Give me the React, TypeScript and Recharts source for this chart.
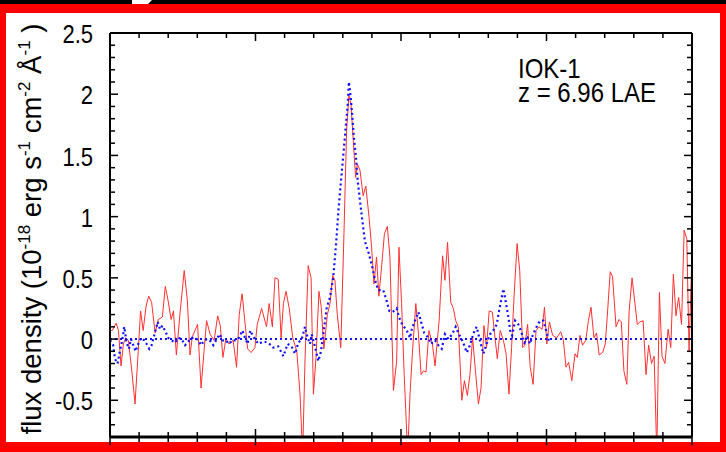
import React from 'react';
import { LineChart, Line, XAxis, YAxis, Customized } from 'recharts';

// Observed spectrum (red, solid)
const redWave = [
  9600.0, 9600.8, 9602.1, 9602.9, 9603.8, 9604.6, 9605.4, 9606.3, 9607.5, 9608.6,
  9609.7, 9610.5, 9611.4, 9612.4, 9613.3, 9614.3, 9615.5, 9616.6, 9618.0, 9619.0,
  9620.0, 9621.0, 9621.8, 9622.8, 9624.1, 9625.5, 9626.6, 9627.5, 9628.3, 9630.1,
  9631.3, 9632.3, 9633.2, 9634.4, 9635.8, 9637.0, 9637.9, 9638.8, 9639.8, 9640.9,
  9642.3, 9643.5, 9644.4, 9645.4, 9646.2, 9647.3, 9648.5, 9649.8, 9650.6, 9652.1,
  9653.8, 9654.7, 9655.8, 9656.7, 9657.8, 9658.8, 9659.6, 9660.5, 9661.6, 9662.8,
  9664.2, 9665.3, 9666.2, 9667.0, 9668.1, 9669.1, 9669.9, 9670.8, 9671.8, 9672.6,
  9673.5, 9674.7, 9675.6, 9676.5, 9677.3, 9678.1, 9679.3, 9680.4, 9681.3, 9682.1,
  9682.8, 9683.6, 9684.4, 9685.0, 9685.9, 9687.0, 9687.9, 9689.0, 9689.9, 9690.7,
  9691.6, 9692.4, 9693.4, 9694.3, 9695.3, 9696.2, 9697.4, 9698.5, 9699.3, 9700.2,
  9701.1, 9702.3, 9703.1, 9703.9, 9705.1, 9706.0, 9706.9, 9707.7, 9708.6, 9709.6,
  9710.8, 9711.7, 9713.1, 9714.3, 9715.1, 9716.0, 9717.1, 9718.0, 9718.8, 9719.7,
  9720.9, 9721.8, 9722.8, 9723.7, 9724.6, 9725.7, 9726.6, 9727.5, 9728.5, 9729.4,
  9730.3, 9731.4, 9732.3, 9733.1, 9734.1, 9735.2, 9736.1, 9737.1, 9738.0, 9738.9,
  9739.9, 9740.8, 9741.8, 9742.6, 9743.5, 9744.4, 9745.4, 9746.4, 9747.4, 9748.5,
  9749.3, 9750.1, 9751.0, 9752.1, 9753.5, 9754.9, 9755.8, 9756.7, 9757.6, 9758.7,
  9759.8, 9760.6, 9761.5, 9762.4, 9763.5, 9764.4, 9765.3, 9766.3, 9767.2, 9768.1,
  9769.3, 9770.2, 9771.0, 9771.9, 9772.7, 9773.9, 9774.9, 9775.7, 9776.6, 9777.6,
  9778.4, 9779.4, 9780.4, 9781.2, 9782.1, 9783.2, 9784.2, 9785.1, 9786.1, 9787.0,
  9787.9, 9788.8, 9789.7, 9790.7, 9791.8, 9792.7, 9793.6, 9794.5, 9795.4, 9796.4,
  9797.3, 9798.2, 9799.0, 9799.9,
];
const redFlux = [
  0.07, 0.07, 0.13, 0.07, -0.22, -0.04, 0.01, -0.01, -0.26, -0.53,
  -0.10, 0.23, 0.07, 0.27, 0.35, 0.30, 0.05, 0.16, 0.18, 0.43,
  0.31, 0.16, 0.23, -0.13, 0.22, 0.56, 0.31, -0.13, 0.02, 0.12,
  -0.40, -0.10, 0.15, 0.04, -0.01, 0.19, 0.11, -0.15, 0.00, -0.04,
  -0.01, -0.23, 0.20, 0.37, 0.18, -0.08, -0.11, -0.07, 0.12, 0.25,
  0.10, 0.29, 0.10, 0.50, 0.49, 0.01, 0.29, 0.39, 0.25, 0.01,
  -0.10, -0.45, -0.95, -0.18, 0.60, 0.50, -0.45, -0.15, 0.39, 0.26,
  -0.08, 0.20, 0.29, 0.52, 0.48, 0.20, -0.07, 0.86, 1.70, 1.99,
  1.92, 1.62, 1.32, 1.43, 1.38, 1.17, 1.25, 1.00, 0.75, 0.45,
  0.67, 0.35, 0.61, 0.86, 0.92, 0.67, -0.42, -0.18, 0.75, 0.29,
  -0.29, -0.95, -0.45, -0.12, 0.29, 0.04, -0.29, -0.26, -0.27, 0.07,
  -0.04, -0.22, 0.15, 0.68, 0.48, 0.79, 0.30, 0.25, 0.15, 0.10,
  -0.50, -0.34, -0.46, -0.29, 0.01, -0.29, -0.53, -0.40, 0.11, -0.07,
  0.23, 0.22, 0.01, -0.16, 0.07, -0.01, -0.12, -0.45, -0.07, 0.37,
  0.78, 0.56, -0.07, -0.05, 0.12, -0.23, -0.37, 0.07, 0.10, 0.08,
  0.26, -0.04, 0.14, 0.03, 0.01, 0.06, -0.01, -0.23, -0.19, -0.34,
  -0.12, -0.15, 0.03, -0.05, -0.01, 0.15, 0.26, 0.01, 0.05, -0.13,
  -0.11, -0.04, 0.23, 0.55, 0.51, 0.10, 0.16, 0.14, -0.26, -0.37,
  0.23, 0.50, 0.29, 0.12, 0.14, 0.15, -0.29, -0.05, -0.20, -0.14,
  -0.95, 0.38, -0.14, -0.20, 0.08, -0.07, 0.53, 0.19, 0.34, 0.12,
  0.89, 0.82, -0.10, 0.63,
];

// Model / template spectrum (blue, dotted)
const blueWave = [
  9600.0, 9601.1, 9601.7, 9602.6, 9603.4, 9604.2, 9604.9, 9605.7, 9606.5, 9607.2,
  9608.0, 9608.8, 9609.7, 9610.7, 9611.8, 9612.6, 9613.5, 9614.3, 9615.2, 9616.4,
  9617.2, 9618.0, 9618.9, 9620.0, 9621.2, 9622.3, 9623.5, 9624.6, 9625.8, 9626.9,
  9628.1, 9629.2, 9630.3, 9631.3, 9632.4, 9633.6, 9634.7, 9635.5, 9636.7, 9637.6,
  9638.7, 9639.8, 9640.9, 9642.0, 9643.2, 9644.3, 9645.5, 9646.4, 9647.3, 9648.2,
  9649.2, 9651.0, 9652.7, 9654.4, 9656.1, 9657.8, 9659.6, 9661.0, 9662.4, 9663.6,
  9664.7, 9665.9, 9667.0, 9667.8, 9668.7, 9669.3, 9670.4, 9671.6, 9672.5, 9673.3,
  9674.5, 9675.6, 9676.7, 9677.7, 9678.5, 9679.3, 9680.2, 9681.0, 9681.7, 9682.1,
  9682.7, 9683.3, 9683.8, 9684.5, 9685.1, 9685.9, 9686.7, 9687.6, 9688.8, 9689.9,
  9691.1, 9692.2, 9693.9, 9695.1, 9696.0, 9697.1, 9698.5, 9699.3, 9700.4, 9702.0,
  9703.1, 9703.7, 9704.8, 9706.0, 9706.9, 9708.0, 9709.4, 9710.3, 9711.7, 9712.8,
  9714.0, 9715.1, 9716.3, 9717.6, 9718.8, 9719.9, 9721.4, 9722.6, 9723.7, 9724.8,
  9726.0, 9727.1, 9728.3, 9729.4, 9730.6, 9731.7, 9732.9, 9733.7, 9734.6, 9735.2,
  9736.1, 9736.9, 9737.5, 9738.2, 9739.2, 9740.3, 9741.2, 9742.4, 9743.5, 9744.3,
  9745.4, 9746.6, 9747.8, 9748.9, 9750.1, 9751.0,
];
const blueFlux = [
  -0.01, -0.05, -0.16, -0.20, -0.10, -0.01, 0.10, -0.03, -0.08, 0.00,
  -0.05, -0.10, -0.04, 0.01, -0.01, -0.04, -0.08, -0.05, 0.03, 0.14,
  0.08, 0.11, 0.07, 0.01, -0.01, -0.03, 0.01, 0.00, -0.05, -0.02,
  0.01, 0.01, -0.01, -0.05, -0.01, 0.00, -0.02, -0.05, 0.00, 0.04,
  -0.01, -0.01, -0.04, -0.01, -0.01, 0.01, 0.07, 0.01, -0.04, 0.07,
  0.02, -0.04, -0.02, -0.03, -0.07, -0.06, -0.14, -0.04, -0.06, -0.12,
  -0.03, 0.00, 0.10, 0.02, -0.04, 0.04, -0.06, -0.18, -0.10, 0.04,
  0.26, 0.34, 0.50, 0.78, 1.05, 1.27, 1.51, 1.73, 1.92, 2.10,
  1.98, 1.81, 1.65, 1.49, 1.30, 1.13, 0.97, 0.80, 0.71, 0.61,
  0.48, 0.40, 0.40, 0.31, 0.23, 0.22, 0.25, 0.18, 0.12, 0.07,
  0.01, 0.08, 0.15, 0.22, 0.14, 0.05, 0.01, -0.04, -0.01, -0.05,
  -0.08, 0.04, 0.00, 0.04, 0.10, 0.04, -0.03, -0.11, -0.05, 0.04,
  0.10, -0.01, -0.12, -0.04, 0.04, 0.07, 0.12, 0.23, 0.34, 0.41,
  0.29, 0.18, 0.07, 0.03, 0.15, 0.12, 0.07, -0.03, 0.01, -0.04,
  0.04, 0.10, 0.15, 0.15, 0.05, -0.03,
];

// Continuum level (blue, dotted)
const continuumWave = [9600, 9800];
const continuumFlux = [0, 0];

const xTicks = [
  9600, 9610, 9620, 9630, 9640, 9650, 9660, 9670, 9680, 9690, 9700,
  9710, 9720, 9730, 9740, 9750, 9760, 9770, 9780, 9790, 9800,
];
const yTicks = [
  -0.8, -0.7, -0.6, -0.5, -0.4, -0.3, -0.2, -0.1, 0, 0.1, 0.2, 0.3, 0.4, 0.5,
  0.6, 0.7, 0.8, 0.9, 1, 1.1, 1.2, 1.3, 1.4, 1.5, 1.6, 1.7, 1.8, 1.9, 2,
  2.1, 2.2, 2.3, 2.4, 2.5,
];
const yMajorLabels = ['-0.5', '0', '0.5', '1', '1.5', '2', '2.5'];
const annotationLines = ['IOK-1', 'z = 6.96 LAE'];

const redData = redWave.map((w, i) => ({ w, f: redFlux[i] }));
const blueData = blueWave.map((w, i) => ({ w, f: blueFlux[i] }));
const contData = continuumWave.map((w, i) => ({ w, f: continuumFlux[i] }));

const FONT = '"Liberation Sans", Arial, Helvetica, sans-serif';
const MAJ = 8;
const MIN = 5;
const STRETCH = 1.16;

const isMajorX = (v: number) => Math.round(v) % 50 === 0;
const labelFor = (v: number) => {
  const s = String(Math.round(v * 10) / 10);
  return yMajorLabels.includes(s) ? s : null;
};

const BottomTick = (p: any) => {
  const len = isMajorX(p.payload.value) ? MAJ : MIN;
  return <line x1={p.x} x2={p.x} y1={p.y - len} y2={p.y + len} stroke="#000" strokeWidth={1.5} />;
};
const TopTick = (p: any) => {
  const len = isMajorX(p.payload.value) ? MAJ : MIN;
  return <line x1={p.x} x2={p.x} y1={p.y} y2={p.y + len} stroke="#000" strokeWidth={1.5} />;
};
const LeftTick = (p: any) => {
  const lab = labelFor(p.payload.value);
  const len = lab ? MAJ : MIN;
  return (
    <g>
      <line x1={p.x} x2={p.x + len} y1={p.y} y2={p.y} stroke="#000" strokeWidth={1.5} />
      {lab && (
        <text
          transform={`translate(${p.x - 17}, ${p.y + 1}) scale(1, ${STRETCH})`}
          x={0}
          y={0}
          textAnchor="end"
          dominantBaseline="central"
          fontFamily={FONT}
          fontSize={22}
          fill="#000"
        >
          {lab}
        </text>
      )}
    </g>
  );
};
const RightTick = (p: any) => {
  const lab = labelFor(p.payload.value);
  const len = lab ? MAJ : MIN;
  return <line x1={p.x} x2={p.x - len} y1={p.y} y2={p.y} stroke="#000" strokeWidth={1.5} />;
};

const Decorations = () => (
  <g fontFamily={FONT} fill="#000">
    <text transform={`translate(518, 78) scale(1, ${STRETCH})`} fontSize={24}>
      <tspan x={0} y={0}>{annotationLines[0]}</tspan>
      <tspan x={0} dy={20.7}>{annotationLines[1]}</tspan>
    </text>
    <text transform="translate(41, 229) rotate(-90)" textAnchor="middle" fontSize={27.5}>
      <tspan>flux density (10</tspan>
      <tspan fontSize={17} dy={-11}>-18</tspan>
      <tspan dy={11}> erg s</tspan>
      <tspan fontSize={17} dy={-11}>-1</tspan>
      <tspan dy={11}> cm</tspan>
      <tspan fontSize={17} dy={-11}>-2</tspan>
      <tspan dy={11}> Å</tspan>
      <tspan fontSize={17} dy={-11}>-1</tspan>
      <tspan dy={11}> )</tspan>
    </text>
  </g>
);

export default function App() {
  return (
    <div style={{ position: 'fixed', left: 0, top: 0, width: 726, height: 452, background: '#ff0000', overflow: 'hidden' }}>
      <div style={{ position: 'absolute', left: 0, top: 0, width: 726, height: 4, background: '#000' }} />
      <div
        style={{
          position: 'absolute', left: 132, top: 0, width: 20, height: 4, background: '#fff',
          clipPath: 'polygon(0 0, 100% 0, 80% 100%, 0 100%)',
        }}
      />
      <div style={{ position: 'absolute', left: 6, top: 13, width: 714, height: 429, background: '#fff' }} />
      <div style={{ position: 'absolute', left: 0, top: 0 }}>
        <LineChart width={726} height={452} margin={{ top: 0, right: 0, bottom: 0, left: 50 }}>
          <XAxis
            xAxisId="b"
            dataKey="w"
            type="number"
            domain={[9600, 9800]}
            ticks={xTicks}
            interval={0}
            orientation="bottom"
            height={15}
            tickSize={0}
            tickMargin={0}
            tick={<BottomTick />}
            axisLine={{ stroke: '#000', strokeWidth: 3 }}
            allowDataOverflow
          />
          <XAxis
            xAxisId="t"
            dataKey="w"
            type="number"
            domain={[9600, 9800]}
            ticks={xTicks}
            interval={0}
            orientation="top"
            height={33}
            tickSize={0}
            tickMargin={0}
            tick={<TopTick />}
            axisLine={{ stroke: '#000', strokeWidth: 2 }}
            allowDataOverflow
          />
          <YAxis
            yAxisId="l"
            type="number"
            domain={[-0.8, 2.5]}
            ticks={yTicks}
            interval={0}
            orientation="left"
            width={60}
            tickSize={0}
            tickMargin={0}
            tick={<LeftTick />}
            axisLine={{ stroke: '#000', strokeWidth: 2 }}
            allowDataOverflow
          />
          <YAxis
            yAxisId="r"
            type="number"
            domain={[-0.8, 2.5]}
            ticks={yTicks}
            interval={0}
            orientation="right"
            width={34}
            tickSize={0}
            tickMargin={0}
            tick={<RightTick />}
            axisLine={{ stroke: '#000', strokeWidth: 2 }}
            allowDataOverflow
          />
          <Line
            xAxisId="b"
            yAxisId="l"
            data={redData}
            dataKey="f"
            type="linear"
            dot={false}
            activeDot={false}
            stroke="#ff3030"
            strokeWidth={1}
            isAnimationActive={false}
          />
          <Line
            xAxisId="b"
            yAxisId="l"
            data={contData}
            dataKey="f"
            type="linear"
            dot={false}
            activeDot={false}
            stroke="#1010ff"
            strokeWidth={2}
            strokeDasharray="2 3"
            isAnimationActive={false}
          />
          <Line
            xAxisId="b"
            yAxisId="l"
            data={blueData}
            dataKey="f"
            type="linear"
            dot={false}
            activeDot={false}
            stroke="#1010ff"
            strokeWidth={2.2}
            strokeDasharray="2 3"
            isAnimationActive={false}
          />
          <Customized component={Decorations} />
        </LineChart>
      </div>
    </div>
  );
}
